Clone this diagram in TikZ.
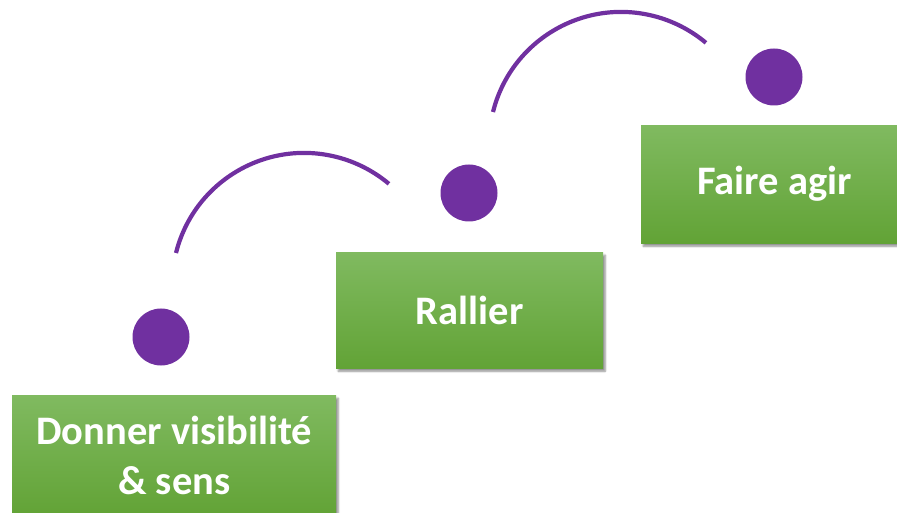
\documentclass[tikz,border=0pt]{standalone}
\usepackage{fontspec}
\setmainfont{Carlito}
\usetikzlibrary{shadows.blur}

\definecolor{stepgreentop}{RGB}{128,186,96}
\definecolor{stepgreenbot}{RGB}{98,163,54}
\definecolor{steppurple}{RGB}{112,48,160}

\tikzset{
    stepbox/.style={rectangle, anchor=north west, inner sep=0pt,
        top color=stepgreentop, bottom color=stepgreenbot, draw=none,
        text=white, align=center,
        font=\bfseries\fontsize{40.5}{50}\selectfont,
        blur shadow={shadow xshift=2pt, shadow yshift=-3pt, shadow blur steps=6, shadow opacity=45}},
    stepdot/.style={circle, fill=steppurple, draw=none, minimum size=57pt, inner sep=0pt},
    jump/.style={draw=steppurple, line width=4.2pt}
}

\begin{document}
\begin{tikzpicture}[x=1pt, y=1pt]
    \useasboundingbox (0,0) rectangle (897,512);
    \clip (0,0) rectangle (897,512);

    % Steps
    \node[stepbox, minimum width=324pt, minimum height=120pt] (visibilite) at (12,117)
        {Donner visibilité\\\& sens};
    \node[stepbox, minimum width=267pt, minimum height=116pt] (rallier) at (336,260) {Rallier};
    \node[stepbox, minimum width=267pt, minimum height=118pt] (agir) at (641,387) {Faire agir};

    % Dots
    \node[stepdot] (dot1) at (161,175) {};
    \node[stepdot] (dot2) at (469,319) {};
    \node[stepdot] (dot3) at (774,435) {};

    % Jumps
    \coordinate (jump1) at (176,259);
    \coordinate (jump2) at (493,400);
    \draw[jump] (jump1) arc[start angle=166, end angle=50, radius=132pt];
    \draw[jump] (jump2) arc[start angle=166, end angle=50, radius=132pt];
\end{tikzpicture}
\end{document}
